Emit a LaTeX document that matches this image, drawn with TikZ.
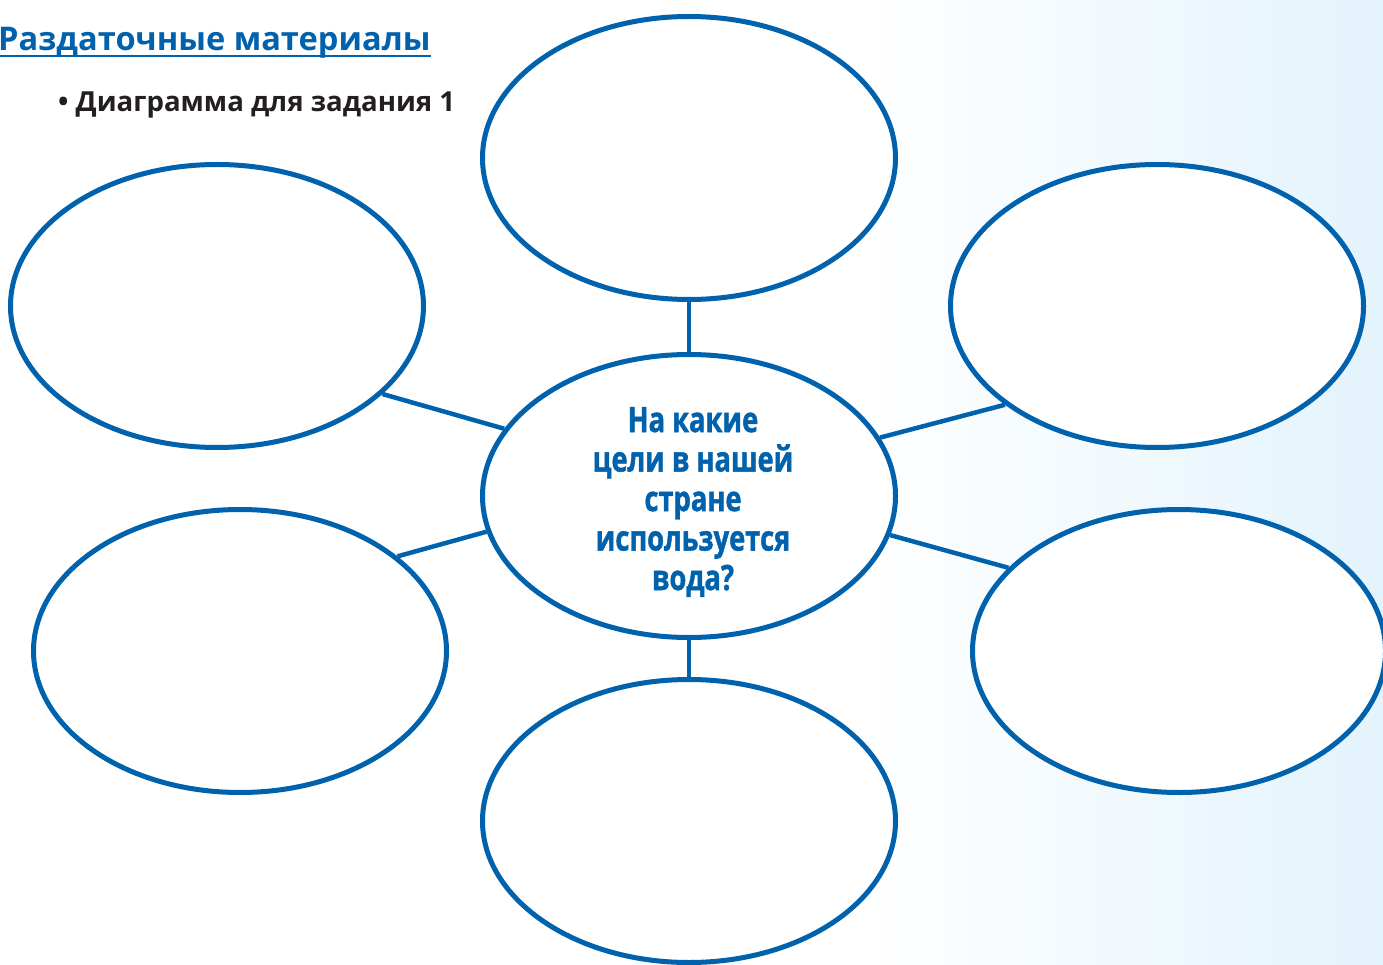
\documentclass[tikz,border=0pt]{standalone}
\usepackage{fontspec}
\setmainfont{Open Sans}
\newfontfamily\condfont[FakeStretch=0.78,FakeBold=1.2]{Open Sans}
\usetikzlibrary{shapes.geometric}
\definecolor{blu}{HTML}{0061AD}
\definecolor{txtdark}{HTML}{231F20}
\definecolor{bgblue}{HTML}{E3F3FC}
\begin{document}
\begin{tikzpicture}[x=1pt,y=-1pt,
  oval/.style={ellipse, draw=blu, line width=5pt, fill=white, minimum width=413pt, minimum height=283pt, inner sep=0pt},
  link/.style={draw=blu, line width=4.5pt},
  heading/.style={anchor=base west, inner sep=0pt, font=\bfseries\fontsize{32.6}{32.6}\selectfont, text=blu},
  subheading/.style={anchor=base west, inner sep=0pt, font=\bfseries\fontsize{27.6}{27.6}\selectfont, text=txtdark},
  question/.style={align=center, text=blu, font=\condfont\bfseries\fontsize{35}{39.5}\selectfont}]
\useasboundingbox (0,0) rectangle (1383,965);
\shade[left color=white, right color=bgblue] (860,0) rectangle (1383,965);
\node[heading] (title) at (-2,51) {Раздаточные материалы};
\draw[blu, line width=2pt] ([yshift=-5pt]title.base west) -- ([yshift=-5pt]title.base east);
\node[subheading] (sub) at (58,112) {• Диаграмма для задания 1};
\node[oval] (t) at (689,158) {};
\node[oval] (ul) at (217,306) {};
\node[oval] (ur) at (1157,306) {};
\node[oval] (ll) at (240,651) {};
\node[oval] (lr) at (1179,651) {};
\node[oval] (b) at (689,821) {};
\node[oval, question] (c) at (689,496) {};
\node[question, inner sep=0pt] (q) at (693,502) {На какие\\цели в нашей\\стране\\используется\\вода?};
\draw[link] (t.south) -- (c.north);
\draw[link] (c.south) -- (b.north);
\draw[link] (ul.-28.6) -- (c.160.5);
\draw[link] (ur.213.1) -- (c.17.2);
\draw[link] (ll.31.8) -- (c.190.4);
\draw[link] (lr.154.8) -- (c.-11.9);
\end{tikzpicture}
\end{document}
